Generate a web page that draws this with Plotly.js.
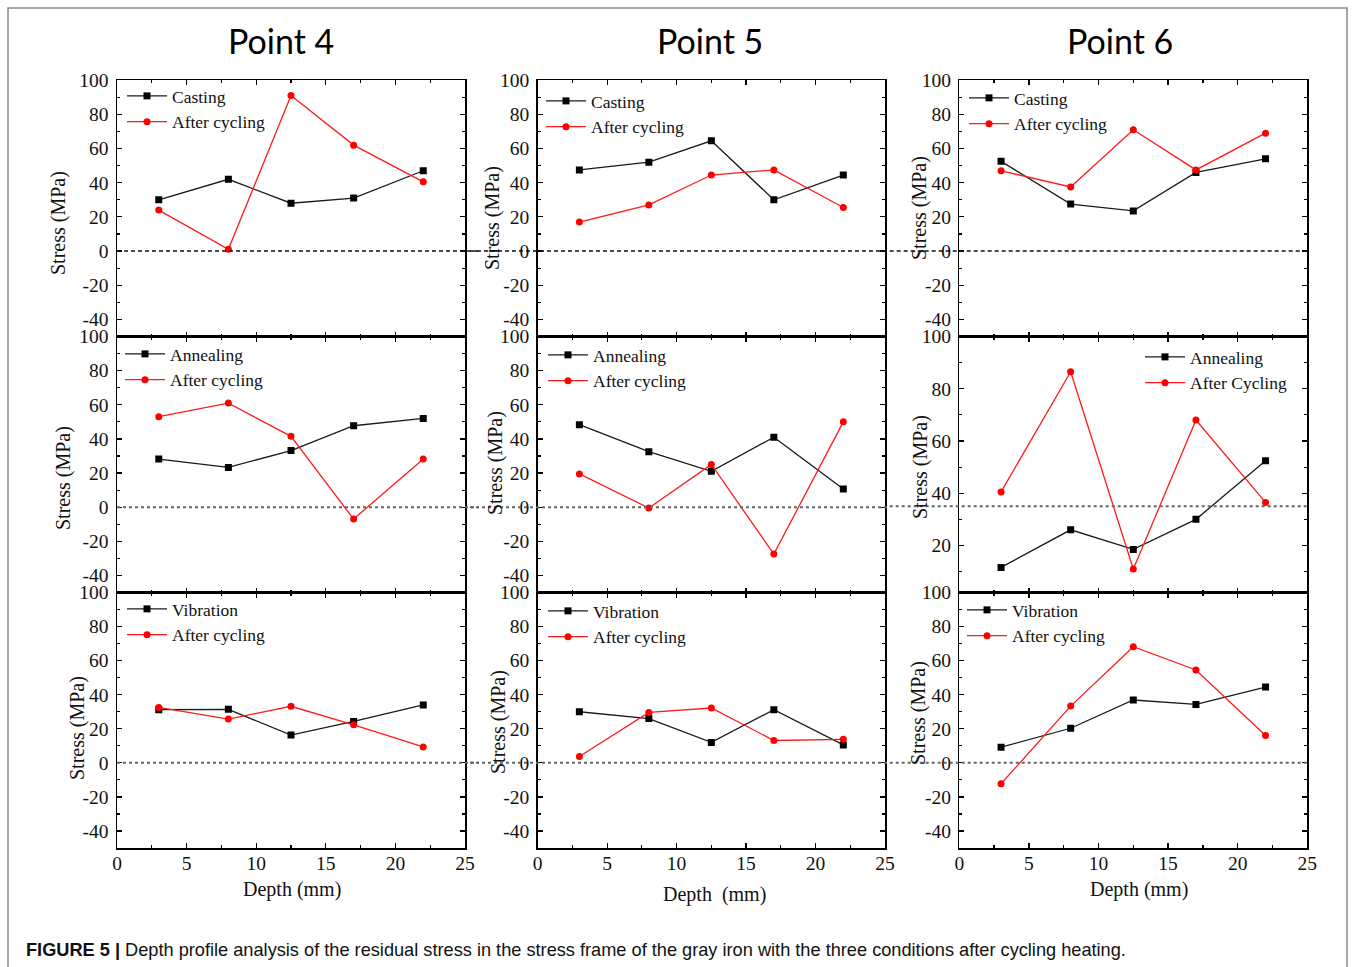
<!DOCTYPE html>
<html>
<head>
<meta charset="utf-8">
<script src="https://cdn.plot.ly/plotly-3.0.1.min.js"></script>
<style>html,body{margin:0;padding:0;background:#fff}#chart{width:1354px;height:967px}</style>
</head>
<body>
<div id="chart"></div>
<script>
// ---- data ----
const depth = [3, 8, 12.5, 17, 22];
const pointTitles = ['Point 4', 'Point 5', 'Point 6'];
const treatments = ['Casting', 'Annealing', 'Vibration'];
const yTickVals = [-40, -20, 0, 20, 40, 60, 80, 100];
const yTickText = ['-40', '-20', '0', '20', '40', '60', '80', '100'];

const p4Casting = [30, 42, 28, 31, 47];
const p4CastingAfter = [24, 1, 91, 62, 40.5];
const p5Casting = [47.5, 52, 64.5, 30, 44.5];
const p5CastingAfter = [17, 27, 44.5, 47.5, 25.5];
const p6Casting = [52.5, 27.5, 23.5, 46, 54];
const p6CastingAfter = [47, 37.5, 71, 47.5, 69];

const p4Annealing = [28.2, 23.3, 33.2, 47.7, 52];
const p4AnnealingAfter = [53, 61, 41.5, -7, 28.2];
const p5Annealing = [48.3, 32.5, 21, 41, 10.7];
const p5AnnealingAfter = [19.5, -0.5, 25, -27.5, 50];
const p6Annealing = [11.6, 26, 18.5, 30, 52.4];
const p6AnnealingAfter = [40.5, 86.5, 11, 68, 36.5];

const p4Vibration = [31.2, 31.4, 16.3, 24.3, 34];
const p4VibrationAfter = [32.5, 25.7, 33.2, 22.3, 9.3];
const p5Vibration = [30, 26, 12, 31.2, 10.5];
const p5VibrationAfter = [3.7, 29.6, 32.2, 13.1, 13.8];
const p6Vibration = [9.2, 20.3, 36.9, 34.3, 44.5];
const p6VibrationAfter = [-12.3, 33.3, 68.2, 54.5, 16];

const afterLabels = [
  ['After cycling', 'After cycling', 'After cycling'],
  ['After cycling', 'After cycling', 'After Cycling'],
  ['After cycling', 'After cycling', 'After cycling']
];
const baseSeries = [
  [p4Casting, p5Casting, p6Casting],
  [p4Annealing, p5Annealing, p6Annealing],
  [p4Vibration, p5Vibration, p6Vibration]
];
const afterSeries = [
  [p4CastingAfter, p5CastingAfter, p6CastingAfter],
  [p4AnnealingAfter, p5AnnealingAfter, p6AnnealingAfter],
  [p4VibrationAfter, p5VibrationAfter, p6VibrationAfter]
];
const yRanges = [
  [[-50, 100], [-50, 100], [-50, 100]],
  [[-50, 100], [-50, 100], [2, 100]],
  [[-50, 100], [-50, 100], [-50, 100]]
];
const refLineY = [
  [0, 0, 0],
  [0, 0, 35],
  [0, 0, 0]
];
const xRange = [0, 25];

// ---- geometry (pixels) ----
const W = 1354, H = 967;
const px = v => v / W;
const py = v => 1 - v / H;
const colX = [[117, 465], [537.7, 885], [959.3, 1307.3]];
const rowY = [[80.2, 336.5], [336.5, 592.5], [592.5, 848]];
const refExt = [[0, 1.04], [-0.195, 1.01], [-0.2, 1.0]];
const legendPos = [
  [[122, 78], [541, 83], [964, 80]],
  [[120, 336], [543, 337], [1140, 339]],
  [[122, 591], [543, 593], [962, 592]]
];
const ytitlePos = [
  [[59, 223], [493, 218], [919, 208]],
  [[63, 478], [495, 463], [920, 467]],
  [[77, 728], [498, 722], [918, 713]]
];
const xtitlePos = [[292, 889, 'Depth (mm)'], [714, 894, 'Depth  (mm)'], [1139, 889, 'Depth (mm)']];
const titlePos = [[281, 40], [710, 40], [1120, 40]];

const serif = 'Liberation Serif, Times New Roman, serif';
const traces = [];
const layout = {
  width: W, height: H,
  margin: {l: 0, r: 0, t: 0, b: 0},
  paper_bgcolor: '#fff', plot_bgcolor: 'rgba(0,0,0,0)',
  font: {family: serif, size: 19, color: '#111'},
  shapes: [], annotations: []
};

for (let r = 0; r < 3; r++) {
  for (let c = 0; c < 3; c++) {
    const k = r * 3 + c + 1;
    const xa = k === 1 ? 'x' : 'x' + k;
    const ya = k === 1 ? 'y' : 'y' + k;
    const lg = k === 1 ? 'legend' : 'legend' + k;
    traces.push({
      x: depth, y: baseSeries[r][c], xaxis: xa, yaxis: ya, legend: lg,
      name: treatments[r], mode: 'lines+markers',
      line: {color: '#1a1a1a', width: 1.3},
      marker: {symbol: 'square', size: 7, color: '#000'}
    });
    traces.push({
      x: depth, y: afterSeries[r][c], xaxis: xa, yaxis: ya, legend: lg,
      name: afterLabels[r][c], mode: 'lines+markers',
      line: {color: '#ff1a1a', width: 1.3},
      marker: {symbol: 'circle', size: 7, color: '#ff0000'}
    });
    const axisCommon = {
      showline: true, linecolor: '#000', linewidth: 1.5, mirror: 'ticks',
      ticks: 'inside', ticklen: 5, tickwidth: 1.2, tickcolor: '#000',
      showgrid: false, zeroline: false, fixedrange: true,
      tickfont: {family: serif, size: 19.5, color: '#111'}
    };
    layout['xaxis' + (k === 1 ? '' : k)] = Object.assign({}, axisCommon, {
      domain: [px(colX[c][0]), px(colX[c][1])], anchor: ya,
      range: xRange, dtick: 5, tick0: 0,
      minor: {dtick: 2.5, ticks: 'inside', ticklen: 3, tickcolor: '#000'},
      showticklabels: r === 2, ticklabelstandoff: -3
    });
    layout['yaxis' + (k === 1 ? '' : k)] = Object.assign({}, axisCommon, {
      domain: [py(rowY[r][1]), py(rowY[r][0])], anchor: xa,
      range: yRanges[r][c], tickmode: 'array', tickvals: yTickVals, ticktext: yTickText,
      minor: {tickmode: 'linear', tick0: 0, dtick: 10, ticks: 'inside', ticklen: 3, tickcolor: '#000'},
      ticklabelstandoff: 3
    });
    layout[lg] = {
      x: px(legendPos[r][c][0]), y: py(legendPos[r][c][1]),
      xanchor: 'left', yanchor: 'top', xref: 'paper', yref: 'paper',
      bgcolor: 'rgba(0,0,0,0)', borderwidth: 0,
      font: {family: serif, size: 17.5, color: '#111'},
      itemwidth: 40, tracegroupgap: 0
    };
    layout.shapes.push({
      type: 'line', xref: xa + ' domain', yref: ya,
      x0: refExt[c][0], x1: refExt[c][1], y0: refLineY[r][c], y1: refLineY[r][c],
      line: r === 0 ? {color: '#111', width: 1.5, dash: '4px,3px'}
                    : {color: '#666', width: 2, dash: '3px,3px'},
      layer: 'above'
    });
    layout.annotations.push({
      xref: 'paper', yref: 'paper', x: px(ytitlePos[r][c][0]), y: py(ytitlePos[r][c][1]),
      text: 'Stress (MPa)', textangle: -90, showarrow: false,
      xanchor: 'center', yanchor: 'middle',
      font: {family: serif, size: 20, color: '#111'}
    });
  }
}

for (let c = 0; c < 3; c++) {
  layout.annotations.push({
    xref: 'paper', yref: 'paper', x: px(xtitlePos[c][0]), y: py(xtitlePos[c][1]),
    text: xtitlePos[c][2], showarrow: false, xanchor: 'center', yanchor: 'middle',
    font: {family: serif, size: 20, color: '#111'}
  });
  layout.annotations.push({
    xref: 'paper', yref: 'paper', x: px(titlePos[c][0]), y: py(titlePos[c][1]),
    text: pointTitles[c], showarrow: false, xanchor: 'center', yanchor: 'middle',
    font: {family: 'Lato, Open Sans, sans-serif', size: 34, color: '#000'}
  });
}

layout.annotations.push({
  xref: 'paper', yref: 'paper', x: px(24), y: py(950),
  text: '<b>FIGURE 5 |</b> Depth profile analysis of the residual stress in the stress frame of the gray iron with the three conditions after cycling heating.',
  showarrow: false, xanchor: 'left', yanchor: 'middle',
  font: {family: 'Liberation Sans, Arial, sans-serif', size: 18.2, color: '#111'}
});

layout.shapes.push({
  type: 'rect', xref: 'paper', yref: 'paper',
  x0: px(8), x1: px(1347), y0: -0.01, y1: py(8),
  line: {color: '#888', width: 1.5}, fillcolor: 'rgba(0,0,0,0)', layer: 'below'
});

Plotly.newPlot('chart', traces, layout, {displayModeBar: false, staticPlot: true});
</script>
</body>
</html>
